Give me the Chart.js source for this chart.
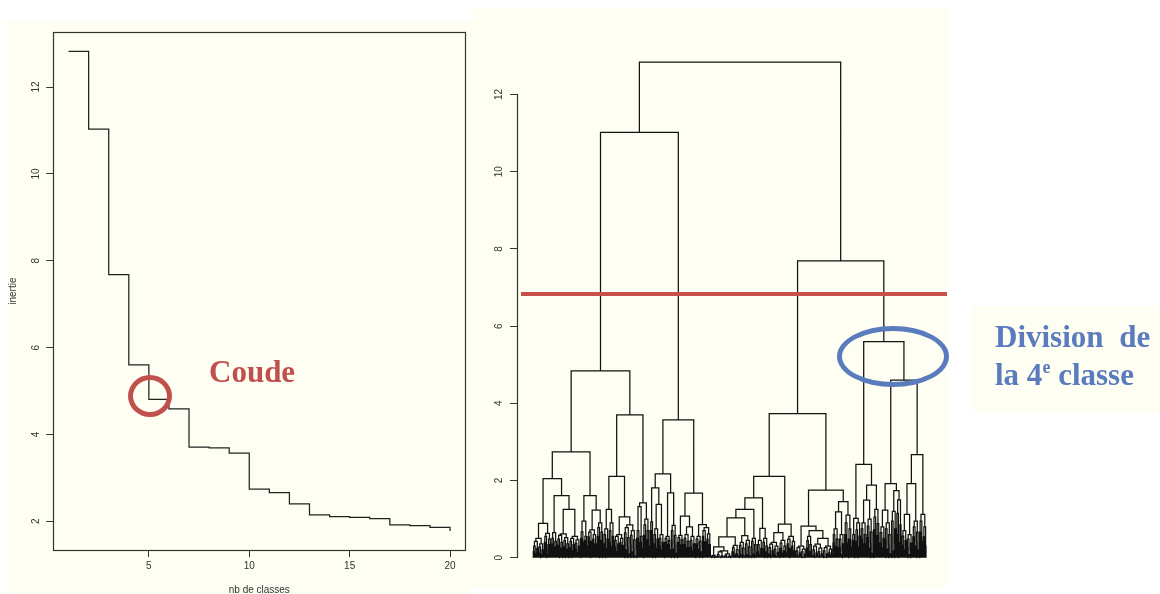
<!DOCTYPE html>
<html><head><meta charset="utf-8">
<script src="https://cdn.jsdelivr.net/npm/chart.js@4.4.1/dist/chart.umd.min.js"></script>
<style>
html,body{margin:0;padding:0;background:#ffffff;}
body{width:1160px;height:594px;overflow:hidden;position:relative;}
.panel{position:absolute;background:#fefef2;}
.panel canvas{position:absolute;left:0;top:0;}
.ring{position:absolute;box-sizing:border-box;border-radius:50%;}
.note{position:absolute;font-family:'Liberation Serif','Times New Roman',serif;font-weight:bold;font-size:31px;line-height:31px;white-space:nowrap;}
</style></head><body>
<div class="panel" style="left:7px;top:21px;width:465px;height:573px;"><canvas id="c1" width="465" height="580"></canvas></div>
<div class="panel" style="left:472px;top:7px;width:475px;height:581px;"><canvas id="c2" width="475" height="581"></canvas></div>
<div class="panel" style="left:973px;top:306px;width:187px;height:107px;"></div>
<div class="note" style="left:209px;top:356px;color:#c0504d;">Coude</div>
<div class="ring" style="left:128px;top:375px;width:44px;height:42px;border:5px solid #c0504d;"></div>
<div class="ring" style="left:837px;top:326px;width:112px;height:61px;border:5px solid #5a7bbd;"></div>
<div class="note" style="left:995px;top:321px;color:#5a7bbd;word-spacing:8px;">Division de</div>
<div class="note" style="left:995px;top:359px;color:#5a7bbd;">la 4<sup style="font-size:18px;vertical-align:0;position:relative;top:-12px;">e</sup> classe</div>
<script>
// ---- left chart: inertia by number of classes ----
const nbClasses = [1,2,3,4,5,6,7,8,9,10,11,12,13,14,15,16,17,18,19,20];
const inertie = [12.82,11.03,7.68,5.60,4.81,4.59,3.71,3.69,3.57,2.74,2.66,2.40,2.15,2.11,2.09,2.06,1.92,1.90,1.86,1.78];
const xTicksLeft = [5,10,15,20];
const yTicksLeft = [2,4,6,8,10,12];
// ---- right chart: dendrogram ----
const yTicksRight = [0,2,4,6,8,10,12];
const cutHeight = 6.83;
const hRoot = 12.84, hA = 11.02, hA1 = 4.84, hB = 7.69, hB2 = 5.60;
// node = [height, left, right]; a list starting with 0 is a small group of leaves, followed by its merge heights
const treeA1a = [2.74,
  [2.05,
    [0.89, [0,0.50,0.42,0.36,0.3,0.28,0.24,0.2,0.16,0.12,0.1,0.08,0.05,0.03],
           [0,0.63,0.55,0.48,0.4,0.34,0.28,0.2,0.14,0.08]],
    [1.61, [0,0.65,0.5,0.42,0.35,0.28,0.2,0.1],
      [1.25, [0,0.62,0.58,0.52,0.48,0.44,0.4,0.36,0.32,0.28,0.25,0.22,0.18,0.14,0.1,0.06],
             [0,0.55,0.5,0.46,0.42,0.38,0.34,0.3,0.26,0.22,0.18,0.14,0.1,0.06]]]],
  [1.61,
    [0.95, [0,0.67,0.5,0.4,0.25], [0,0.55,0.45,0.3,0.15]],
    [1.23, [0,0.72,0.66,0.6,0.54,0.48,0.42,0.36,0.3,0.24,0.16,0.1],
           [0,0.9,0.78,0.66,0.55,0.45,0.35,0.25,0.15]]]];
const treeA1b = [3.70,
  [2.11,
    [1.25, [0,0.75,0.6,0.48,0.36,0.24,0.12], [0,0.9,0.7,0.55,0.4,0.28,0.15]],
    [1.06, [0,0.6,0.55,0.5,0.45,0.4,0.36,0.32,0.28,0.22,0.16,0.1,0.05],
           [0,0.85,0.78,0.7,0.64,0.58,0.52,0.46,0.4,0.35,0.3,0.25,0.2,0.15,0.1,0.05]]],
  [1.42,
    [1.32, [0,0.7,0.5,0.35,0.2], [0,0.55,0.4,0.25]],
    [0,1.0,0.85,0.7,0.58,0.46,0.35,0.24,0.12]]];
const treeA2 = [3.57,
  [2.17,
    [1.81, [0,0.93,0.7,0.5,0.3],
      [1.38, [0,0.75,0.6,0.48,0.36,0.24,0.12], [0,0.6,0.5,0.4,0.3,0.2,0.1]]],
    [1.68, [0,0.55,0.5,0.45,0.4,0.34,0.28,0.2,0.12], [0,0.84,0.7,0.58,0.46,0.34,0.22,0.12]]],
  [1.67,
    [1.08, [0,0.58,0.52,0.46,0.4,0.33,0.26,0.18,0.1],
      [0.80, [0,0.6,0.5,0.42,0.34,0.26,0.18,0.1], [0,0.55,0.45,0.36,0.27,0.18,0.09]]],
    [0.86, [0,0.55,0.48,0.42,0.36,0.3,0.22,0.15,0.08],
           [0,0.78,0.7,0.62,0.55,0.48,0.41,0.34,0.27,0.2,0.13,0.06]]]];
const treeB1 = [3.73,
  [2.11,
    [1.55,
      [1.25,
        [1.03,
          [0.54,
            [0.28, [0,0.06,0.04,0.03,0.02,0.01,0.01],
                   [0,0.18,0.15,0.1,0.08,0.06,0.05,0.04,0.03,0.03,0.02,0.02,0.02,0.01,0.01,0.01,0.01,0.01,0.01,0.01]],
            [0,0.32,0.26,0.2,0.15,0.1,0.06,0.04,0.02,0.01]],
          [0.57, [0,0.4,0.32,0.25,0.18,0.12,0.08,0.04], [0,0.45,0.36,0.28,0.2,0.14,0.08,0.04]]],
        [0,0.5,0.42,0.34,0.26,0.18,0.1,0.05]],
      [0.76, [0,0.45,0.34,0.24,0.15,0.08,0.03], [0,0.5,0.4,0.3,0.22,0.15,0.08,0.03]]],
    [0.87,
      [0.65, [0,0.4,0.35,0.3,0.26,0.22,0.18,0.14,0.1,0.07,0.05,0.03,0.02,0.01],
             [0,0.45,0.38,0.3,0.24,0.18,0.12,0.07,0.03,0.01]],
      [0,0.55,0.48,0.42,0.36,0.3,0.24,0.18,0.12,0.07,0.03,0.01]]],
  [1.75,
    [0.82, [0,0.3,0.26,0.22,0.18,0.15,0.12,0.09,0.06,0.04,0.03,0.02,0.01,0.01],
      [0.7, [0,0.55,0.44,0.34,0.25,0.16,0.08,0.03],
        [0.5, [0,0.35,0.3,0.25,0.2,0.16,0.12,0.09,0.06,0.04,0.03,0.02,0.01,0.01],
              [0,0.3,0.26,0.22,0.18,0.14,0.1,0.07,0.05,0.03,0.02,0.01,0.01]]]],
    [1.45,
      [1.19, [0,0.75,0.6,0.48,0.38,0.28,0.18,0.09], [0,0.6,0.48,0.36,0.26,0.16,0.08]],
      [0,1.1,0.9,0.75,0.6,0.48,0.38,0.28,0.18,0.09]]]];
const treeB2a = [2.42,
  [1.02, [0,0.6,0.45,0.3,0.15], [0,0.9,0.72,0.56,0.42,0.28,0.14]],
  [1.88,
    [1.49, [0,0.9,0.75,0.6,0.48,0.36,0.24,0.12], [0,1.0,0.82,0.66,0.52,0.38,0.25,0.12]],
    [0,1.25,1.05,0.88,0.72,0.58,0.44,0.3,0.15]]];
const treeB2b = [4.60,
  [1.92,
    [1.23, [0,0.8,0.65,0.5,0.38,0.25,0.12], [0,0.9,0.75,0.6,0.46,0.34,0.22,0.1]],
    [1.74, [0,1.2,0.95,0.75,0.55,0.35,0.18], [0,1.5,1.15,0.85,0.6,0.4,0.2]]],
  [2.67,
    [1.92,
      [1.12, [0,0.7,0.56,0.44,0.32,0.2,0.1], [0,0.6,0.48,0.38,0.28,0.18,0.08]],
      [0,0.95,0.8,0.66,0.54,0.42,0.3,0.2,0.1]],
    [0,1.12,0.95,0.8,0.66,0.54,0.42,0.3,0.2,0.1]]];

// ---- build dendrogram segments from the tree ----
let leafCount = 0;
const segs = [];
function addU(a, b, h) {
  segs.push({x:a.x,y:a.h},{x:a.x,y:h},{x:b.x,y:h},{x:b.x,y:b.h},{x:b.x,y:null});
  return {x:(a.x+b.x)/2, h:h};
}
function group(hs) {
  if (!hs.length) return {x: ++leafCount, h: 0};
  const rest = hs.slice(1);
  const a = group(rest.filter((_, i) => i % 2 === 0));
  const b = group(rest.filter((_, i) => i % 2 === 1));
  return addU(a, b, hs[0]);
}
function walk(n) {
  if (n[0] === 0) return group(n.slice(1));
  return addU(walk(n[1]), walk(n[2]), n[0]);
}
walk([hRoot, [hA, [hA1, treeA1a, treeA1b], treeA2], [hB, treeB1, [hB2, treeB2a, treeB2b]]]);

const FONT = {family: "'Liberation Sans', Arial, sans-serif", size: 10};
const INK = '#333333';

// ---- left chart ----
const boxPlugin = {
  id: 'box',
  afterDraw(chart) {
    const a = chart.chartArea, c = chart.ctx;
    c.save(); c.strokeStyle = INK; c.lineWidth = 1.2;
    c.strokeRect(Math.round(a.left) + 0.5, Math.round(a.top) + 0.5, Math.round(a.right - a.left), Math.round(a.bottom - a.top));
    c.restore();
  }
};
new Chart(document.getElementById('c1'), {
  type: 'line',
  data: { datasets: [{
    data: nbClasses.map((x, i) => ({x: x, y: inertie[i]})),
    stepped: 'before', borderColor: '#222222', borderWidth: 1.25, pointRadius: 0, fill: false
  }]},
  options: {
    responsive: false, animation: false, events: [],
    plugins: { legend: {display: false}, tooltip: {enabled: false} },
    layout: { padding: {top: 11.3, right: 6.7, left: 0, bottom: 0} },
    scales: {
      x: {
        type: 'linear', min: 0.24, max: 20.76,
        afterBuildTicks: s => { s.ticks = xTicksLeft.map(v => ({value: v})); },
        afterFit: s => { s.height = 51; },
        border: {display: false},
        grid: {drawOnChartArea: false, drawTicks: true, tickLength: 7, color: INK},
        ticks: {font: FONT, color: INK, padding: 3, maxRotation: 0, autoSkip: false},
        title: {display: true, text: 'nb de classes', font: FONT, color: INK, padding: {top: 0, bottom: 5}}
      },
      y: {
        type: 'linear', min: 1.34, max: 13.26,
        afterBuildTicks: s => { s.ticks = yTicksLeft.map(v => ({value: v})); },
        afterFit: s => { s.width = 46.3; },
        border: {display: false},
        grid: {drawOnChartArea: false, drawTicks: true, tickLength: 7, color: INK},
        ticks: {font: FONT, color: INK, padding: 4, minRotation: 90, maxRotation: 90, crossAlign: 'center', autoSkip: false},
        title: {display: true, text: 'inertie', font: FONT, color: INK, padding: {top: 0, bottom: 0}}
      }
    }
  },
  plugins: [boxPlugin]
});

// ---- right chart: dendrogram ----
const n = leafCount;
const per = (454 - 61.3) / (n - 1);
const xMin = 1 - (61.3 - 45) / per, xMax = n + (475 - 454) / per;
const dendroPlugin = {
  id: 'dendroExtras',
  afterDatasetsDraw(chart) {
    const c = chart.ctx, y = chart.scales.y, a = chart.chartArea;
    c.save();
    c.strokeStyle = INK; c.lineWidth = 1.2;
    c.beginPath();
    c.moveTo(Math.round(a.left) + 0.5, Math.round(y.getPixelForValue(yTicksRight[0])));
    c.lineTo(Math.round(a.left) + 0.5, Math.round(y.getPixelForValue(yTicksRight[yTicksRight.length - 1])));
    c.stroke();
    const yc = y.getPixelForValue(cutHeight);
    c.strokeStyle = '#c8504a'; c.lineWidth = 4;
    c.beginPath(); c.moveTo(a.left + 4, yc); c.lineTo(chart.width, yc); c.stroke();
    c.restore();
  }
};
new Chart(document.getElementById('c2'), {
  type: 'line',
  data: { datasets: [{
    data: segs, borderColor: '#111111', borderWidth: 1.25, pointRadius: 0, fill: false, spanGaps: false, tension: 0
  }]},
  options: {
    responsive: false, animation: false, events: [],
    plugins: { legend: {display: false}, tooltip: {enabled: false} },
    layout: { padding: {top: 29.6, right: 0, left: 0, bottom: 9.3} },
    scales: {
      x: { type: 'linear', min: xMin, max: xMax, display: false },
      y: {
        type: 'linear', min: -0.5, max: 13.5,
        afterBuildTicks: s => { s.ticks = yTicksRight.map(v => ({value: v})); },
        afterFit: s => { s.width = 45; },
        border: {display: false},
        grid: {drawOnChartArea: false, drawTicks: true, tickLength: 7, color: INK},
        ticks: {font: FONT, color: INK, padding: 5, minRotation: 90, maxRotation: 90, crossAlign: 'center', autoSkip: false}
      }
    }
  },
  plugins: [dendroPlugin]
});
</script>
</body></html>
